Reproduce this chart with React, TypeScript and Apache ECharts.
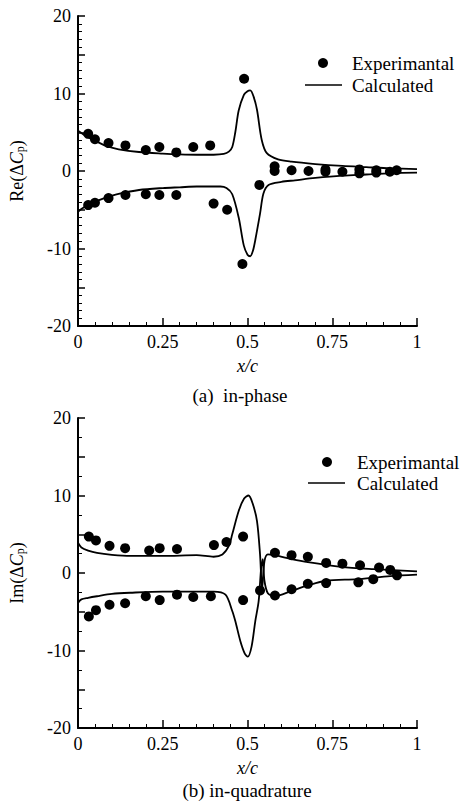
import React, { useEffect, useRef } from 'react';
import * as echarts from 'echarts';

type P = [number, number];

// ---- (a) in-phase ----
const reExpUpper: P[] = [
  [0.03, 4.8], [0.05, 4.1], [0.09, 3.6], [0.14, 3.3], [0.2, 2.7], [0.24, 3.1],
  [0.29, 2.4], [0.34, 3.1], [0.39, 3.3], [0.49, 11.9], [0.58, 0.6], [0.63, 0.1],
  [0.68, 0.0], [0.73, 0.2], [0.78, -0.1], [0.83, 0.2], [0.88, 0.1], [0.92, -0.1], [0.94, 0.1],
];
const reExpLower: P[] = [
  [0.03, -4.4], [0.05, -4.1], [0.09, -3.5], [0.14, -3.1], [0.2, -3.0], [0.24, -3.1],
  [0.29, -3.1], [0.4, -4.2], [0.44, -5.0], [0.485, -12.0], [0.535, -1.8], [0.58, 0.0],
  [0.73, -0.1], [0.83, -0.3], [0.88, -0.2],
];
const reCalcUpper: P[] = [
  [0, 5.2], [0.01, 4.9], [0.02, 4.6], [0.04, 4.1], [0.06, 3.7], [0.085, 3.2], [0.12, 2.8],
  [0.18, 2.45], [0.25, 2.25], [0.3, 2.15], [0.35, 2.1], [0.4, 2.1], [0.43, 2.2], [0.445, 2.5],
  [0.455, 3.1], [0.464, 5.0], [0.474, 7.8], [0.489, 9.8], [0.5, 10.3], [0.508, 10.4],
  [0.518, 9.6], [0.528, 7.9], [0.542, 4.0], [0.557, 2.3], [0.59, 1.5], [0.63, 1.2],
  [0.7, 0.9], [0.78, 0.65], [0.85, 0.5], [0.92, 0.35], [1, 0.25],
];
const reCalcLower: P[] = [
  [0, -5.25], [0.01, -4.9], [0.02, -4.6], [0.037, -4.2], [0.06, -3.8], [0.085, -3.4],
  [0.12, -2.95], [0.18, -2.45], [0.25, -2.2], [0.3, -2.1], [0.35, -2.0], [0.42, -2.0],
  [0.438, -2.2], [0.455, -3.0], [0.474, -6.0], [0.489, -9.6], [0.5, -10.8], [0.508, -11.0],
  [0.516, -10.3], [0.523, -8.9], [0.537, -5.5], [0.547, -2.9], [0.562, -1.8], [0.6, -1.4],
  [0.64, -1.2], [0.7, -0.9], [0.78, -0.6], [0.85, -0.45], [0.92, -0.3], [1, -0.2],
];

// ---- (b) in-quadrature ----
const imExpUpper: P[] = [
  [0.032, 4.7], [0.053, 4.2], [0.093, 3.5], [0.139, 3.2], [0.21, 2.9], [0.241, 3.2],
  [0.292, 3.1], [0.401, 3.6], [0.438, 4.0], [0.487, 4.7], [0.581, 2.6], [0.63, 2.3],
  [0.678, 2.1], [0.732, 1.3], [0.78, 1.2], [0.832, 1.0], [0.888, 0.7], [0.921, 0.4], [0.941, -0.3],
];
const imExpLower: P[] = [
  [0.032, -5.6], [0.053, -4.8], [0.093, -4.1], [0.139, -3.9], [0.2, -3.0], [0.241, -3.5],
  [0.292, -2.8], [0.34, -3.1], [0.392, -3.0], [0.487, -3.5], [0.537, -2.25], [0.581, -2.9],
  [0.63, -2.1], [0.678, -1.4], [0.732, -1.3], [0.827, -1.2], [0.871, -0.8],
];
const imCalcUpper: P[] = [
  [0, 3.9], [0.01, 3.3], [0.03, 2.9], [0.056, 2.6], [0.1, 2.35], [0.154, 2.2], [0.25, 2.2],
  [0.35, 2.3], [0.4, 2.1], [0.426, 2.4], [0.445, 3.5], [0.455, 5.0], [0.474, 8.0], [0.49, 9.6],
  [0.503, 10.0], [0.515, 9.0], [0.528, 6.7], [0.537, 2.4], [0.543, -2.0], [0.55, 1.5],
  [0.56, 2.4], [0.58, 2.3], [0.63, 1.8], [0.678, 1.4], [0.776, 0.8], [0.873, 0.5], [1, 0.2],
];
const imCalcLower: P[] = [
  [0, -3.85], [0.01, -3.4], [0.03, -3.2], [0.056, -3.0], [0.1, -2.7], [0.154, -2.55],
  [0.25, -2.4], [0.4, -2.4], [0.435, -2.8], [0.455, -4.9], [0.464, -6.2], [0.479, -8.8],
  [0.492, -10.4], [0.501, -10.8], [0.512, -9.5], [0.523, -6.2], [0.533, -3.6], [0.54, 0.5],
  [0.545, 1.8], [0.55, -1.0], [0.56, -2.6], [0.58, -3.0], [0.63, -2.3], [0.678, -1.6],
  [0.732, -1.0], [0.824, -0.8], [0.921, -0.4], [1, -0.2],
];

const yLabelValues = [-20, -10, 0, 10, 20];
const legendNames = ['Experimantal', 'Calculated'];

const FONT = "'Liberation Serif', 'Times New Roman', serif";
const FS = 18;
const LFS = 19;

function xAxisCfg(gridIndex: number) {
  return {
    type: 'value', gridIndex, min: 0, max: 1, interval: 0.25,
    axisLine: { show: true, onZero: false, lineStyle: { color: '#000', width: 2 } },
    axisTick: { show: true, inside: true, length: 8, lineStyle: { color: '#000', width: 1.5 } },
    minorTick: { show: true, splitNumber: 5, length: 4, lineStyle: { color: '#000', width: 1 } },
    splitLine: { show: false },
    axisLabel: { color: '#000', fontFamily: FONT, fontSize: FS, margin: 7, formatter: (v: number) => String(v) },
    name: 'x/c', nameLocation: 'middle', nameGap: 31,
    nameTextStyle: { color: '#000', fontFamily: FONT, fontSize: FS, fontStyle: 'italic' },
  };
}

function yAxisCfg(gridIndex: number, minorSplit: number, label: string) {
  return {
    type: 'value', gridIndex, min: -20, max: 20, interval: 5,
    axisLine: { show: true, onZero: false, lineStyle: { color: '#000', width: 2 } },
    axisTick: { show: true, inside: true, length: 7, lineStyle: { color: '#000', width: 1.5 } },
    minorTick: { show: true, splitNumber: minorSplit, length: 4, lineStyle: { color: '#000', width: 1 } },
    splitLine: { show: false },
    axisLabel: {
      color: '#000', fontFamily: FONT, fontSize: FS, margin: 7,
      formatter: (v: number) => (yLabelValues.includes(v) ? String(v) : ''),
    },
    name: `{n|${label}(Δ}{c|C}{s|p}{n|)}`,
    nameLocation: 'middle', nameGap: 52, nameRotate: 90,
    nameTextStyle: {
      color: '#000', fontFamily: FONT, fontSize: FS,
      rich: {
        n: { fontFamily: FONT, fontSize: FS, color: '#000' },
        c: { fontFamily: FONT, fontSize: FS, fontStyle: 'italic', color: '#000' },
        s: { fontFamily: FONT, fontSize: 12, color: '#000', verticalAlign: 'bottom', lineHeight: 14 },
      },
    },
  };
}

function scatter(name: string, data: P[], idx: number) {
  return {
    type: 'scatter', name, xAxisIndex: idx, yAxisIndex: idx, data,
    symbol: 'circle', symbolSize: 10, itemStyle: { color: '#000', opacity: 1 },
  };
}
function line(name: string, data: P[], idx: number) {
  return {
    type: 'line', name, xAxisIndex: idx, yAxisIndex: idx, data,
    symbol: 'none', smooth: 0.3, lineStyle: { color: '#000', width: 1.8 }, itemStyle: { color: '#000' },
  };
}

function legendGraphic(dotX: number, dotY: number, lineX1: number, lineX2: number, lineY: number, textX: number) {
  const textStyle = (text: string, y: number) => ({
    type: 'text', x: textX, y,
    style: { text, font: `${LFS}px ${FONT}`, fill: '#000', textAlign: 'left', textVerticalAlign: 'middle' },
  });
  return [
    { type: 'circle', shape: { cx: dotX, cy: dotY, r: 5 }, style: { fill: '#000' } },
    textStyle(legendNames[0], dotY),
    { type: 'line', shape: { x1: lineX1, y1: lineY, x2: lineX2, y2: lineY }, style: { stroke: '#000', lineWidth: 1.6 } },
    textStyle(legendNames[1], lineY),
  ];
}

export default function App() {
  const ref = useRef<HTMLDivElement>(null);
  useEffect(() => {
    const chart = echarts.init(ref.current!, null, { renderer: 'svg' });
    chart.setOption({
      animation: false,
      backgroundColor: '#fff',
      textStyle: { fontFamily: FONT },
      grid: [
        { left: 74, top: 16, width: 343, height: 310 },
        { left: 74, top: 418, width: 343, height: 310 },
      ],
      xAxis: [xAxisCfg(0), xAxisCfg(1)],
      yAxis: [yAxisCfg(0, 5, 'Re'), yAxisCfg(1, 2, 'Im')],
      series: [
        scatter(legendNames[0], [...reExpUpper, ...reExpLower], 0),
        line(legendNames[1], reCalcUpper, 0),
        line(legendNames[1], reCalcLower, 0),
        scatter(legendNames[0], [...imExpUpper, ...imExpLower], 1),
        line(legendNames[1], imCalcUpper, 1),
        line(legendNames[1], imCalcLower, 1),
      ],
      graphic: [
        ...legendGraphic(323, 63, 305, 342, 85, 352),
        ...legendGraphic(327, 462, 308, 345, 483, 357),
        { type: 'text', x: 240, y: 395, style: { text: '(a)  in-phase', font: `${LFS}px ${FONT}`, fill: '#000', textAlign: 'center', textVerticalAlign: 'middle' } },
        { type: 'text', x: 247, y: 790, style: { text: '(b) in-quadrature', font: `${LFS}px ${FONT}`, fill: '#000', textAlign: 'center', textVerticalAlign: 'middle' } },
      ],
    });
    return () => chart.dispose();
  }, []);
  return <div ref={ref} style={{ position: 'fixed', left: 0, top: 0, width: 465, height: 801, background: '#fff' }} />;
}
